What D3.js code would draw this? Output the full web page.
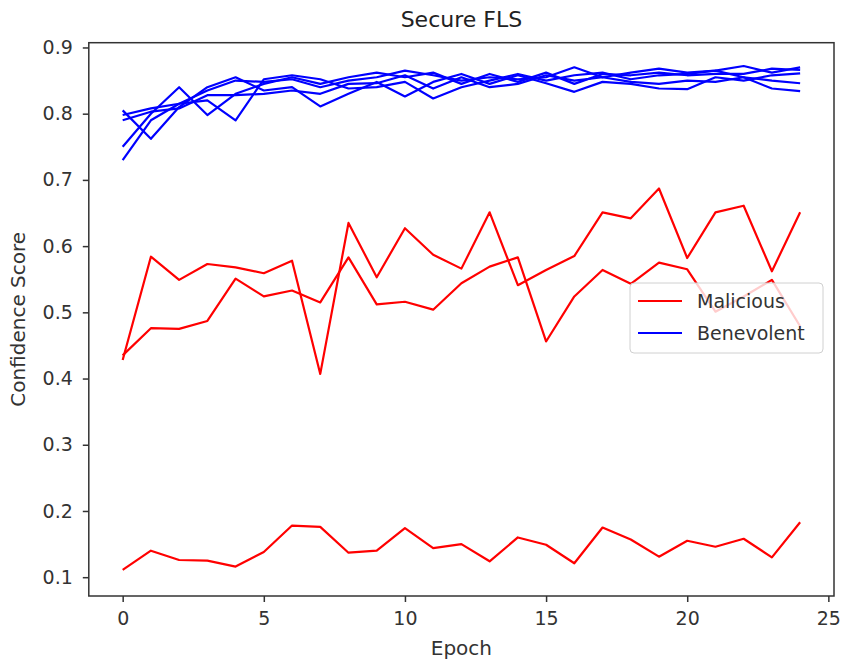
<!DOCTYPE html>
<html>
<head>
<meta charset="utf-8">
<script src="https://cdn.jsdelivr.net/npm/d3@7"></script>
<style>
  body { margin: 0; background: #fff; }
  svg { font-family: "DejaVu Sans", sans-serif; }
</style>
</head>
<body>
<div id="chart"></div>
<script>
const epochs = d3.range(0, 25);

const malicious = [
  [0.111, 0.140, 0.126, 0.125, 0.116, 0.138, 0.178, 0.176, 0.137, 0.140, 0.174, 0.144, 0.150,
   0.124, 0.160, 0.149, 0.121, 0.175, 0.157, 0.131, 0.155, 0.146, 0.158, 0.130, 0.183],
  [0.428, 0.584, 0.549, 0.573, 0.568, 0.559, 0.578, 0.407, 0.635, 0.553, 0.627, 0.587, 0.566,
   0.651, 0.541, 0.564, 0.585, 0.651, 0.642, 0.687, 0.582, 0.651, 0.661, 0.562, 0.651],
  [0.435, 0.476, 0.475, 0.487, 0.551, 0.524, 0.533, 0.515, 0.583, 0.512, 0.516, 0.504, 0.544,
   0.569, 0.583, 0.456, 0.524, 0.564, 0.543, 0.575, 0.565, 0.501, 0.524, 0.549, 0.479]
];

const benevolent = [
  [0.730, 0.790, 0.815, 0.835, 0.850, 0.848, 0.852, 0.840, 0.850, 0.855, 0.865, 0.858, 0.850,
   0.855, 0.852, 0.855, 0.870, 0.855, 0.862, 0.868, 0.862, 0.865, 0.872, 0.862, 0.870],
  [0.750, 0.800, 0.840, 0.798, 0.830, 0.845, 0.855, 0.845, 0.855, 0.862, 0.855, 0.862, 0.845,
   0.860, 0.848, 0.862, 0.845, 0.860, 0.858, 0.862, 0.858, 0.860, 0.860, 0.868, 0.866],
  [0.805, 0.762, 0.810, 0.840, 0.855, 0.835, 0.840, 0.811, 0.830, 0.848, 0.826, 0.848, 0.860,
   0.845, 0.858, 0.846, 0.833, 0.848, 0.845, 0.838, 0.837, 0.855, 0.850, 0.858, 0.861],
  [0.798, 0.808, 0.815, 0.820, 0.790, 0.852, 0.858, 0.852, 0.838, 0.840, 0.848, 0.823, 0.840,
   0.850, 0.860, 0.850, 0.858, 0.862, 0.852, 0.858, 0.860, 0.865, 0.855, 0.838, 0.834],
  [0.790, 0.803, 0.808, 0.828, 0.828, 0.830, 0.835, 0.830, 0.845, 0.846, 0.858, 0.838, 0.855,
   0.840, 0.845, 0.858, 0.850, 0.855, 0.848, 0.845, 0.850, 0.848, 0.855, 0.850, 0.846]
];

const xTicks = [0, 5, 10, 15, 20, 25];
const yTicks = [0.1, 0.2, 0.3, 0.4, 0.5, 0.6, 0.7, 0.8, 0.9];
const legendItems = [
  {label: "Malicious", color: "#ff0000"},
  {label: "Benevolent", color: "#0000ff"}
];

const width = 842, height = 664;
const margin = {top: 42.7, right: 8, bottom: 68, left: 88.8};

const svg = d3.select("#chart").append("svg")
    .attr("width", width)
    .attr("height", height);

const x = d3.scaleLinear().domain([-1.2, 25.2]).range([margin.left, width - margin.right]);
const y = d3.scaleLinear().domain([0.0716, 0.9072]).range([height - margin.bottom, margin.top]);

const line = d3.line()
    .x((d, i) => x(epochs[i]))
    .y(d => y(d));

// lines
const plot = svg.append("g");
plot.selectAll(".mal")
    .data(malicious)
    .enter().append("path")
    .attr("d", line)
    .attr("fill", "none")
    .attr("stroke", "#ff0000")
    .attr("stroke-width", 2.2)
    .attr("stroke-linejoin", "round");

plot.selectAll(".ben")
    .data(benevolent)
    .enter().append("path")
    .attr("d", line)
    .attr("fill", "none")
    .attr("stroke", "#0000ff")
    .attr("stroke-width", 2.2)
    .attr("stroke-linejoin", "round");

// axes
const xAxis = svg.append("g")
    .attr("transform", `translate(0,${height - margin.bottom})`)
    .call(d3.axisBottom(x).tickValues(xTicks).tickSize(6).tickPadding(10).tickFormat(d3.format("d")));
const yAxis = svg.append("g")
    .attr("transform", `translate(${margin.left},0)`)
    .call(d3.axisLeft(y).tickValues(yTicks).tickSize(6).tickPadding(10).tickFormat(d3.format(".1f")));

[xAxis, yAxis].forEach(a => {
  a.select(".domain").remove();
  a.selectAll("line").attr("stroke", "#333").attr("stroke-width", 1.5);
  a.selectAll("text").attr("font-size", 19).attr("fill", "#333")
      .attr("font-family", "DejaVu Sans, sans-serif");
});

// frame
svg.append("rect")
    .attr("x", margin.left)
    .attr("y", margin.top)
    .attr("width", width - margin.right - margin.left)
    .attr("height", height - margin.bottom - margin.top)
    .attr("fill", "none")
    .attr("stroke", "#333")
    .attr("stroke-width", 1.5);

// title and labels
svg.append("text")
    .attr("x", (margin.left + width - margin.right) / 2)
    .attr("y", 27)
    .attr("text-anchor", "middle")
    .attr("font-size", 22)
    .attr("fill", "#222")
    .text("Secure FLS");

svg.append("text")
    .attr("x", (margin.left + width - margin.right) / 2)
    .attr("y", 655)
    .attr("text-anchor", "middle")
    .attr("font-size", 20)
    .attr("fill", "#333")
    .text("Epoch");

svg.append("text")
    .attr("transform", `translate(25,${(margin.top + height - margin.bottom) / 2}) rotate(-90)`)
    .attr("text-anchor", "middle")
    .attr("font-size", 20)
    .attr("fill", "#333")
    .text("Confidence Score");

// legend
const legend = svg.append("g").attr("transform", "translate(630,283)");
legend.append("rect")
    .attr("width", 193)
    .attr("height", 70)
    .attr("rx", 4)
    .attr("fill", "#fff")
    .attr("fill-opacity", 0.8)
    .attr("stroke", "#d0d0d0");

const item = legend.selectAll(".item")
    .data(legendItems)
    .enter().append("g")
    .attr("transform", (d, i) => `translate(0,${18 + i * 32})`);
item.append("line")
    .attr("x1", 8).attr("x2", 52)
    .attr("stroke", d => d.color)
    .attr("stroke-width", 2.2);
item.append("text")
    .attr("x", 67)
    .attr("dy", "0.35em")
    .attr("font-size", 19)
    .attr("fill", "#333")
    .text(d => d.label);
</script>
</body>
</html>
